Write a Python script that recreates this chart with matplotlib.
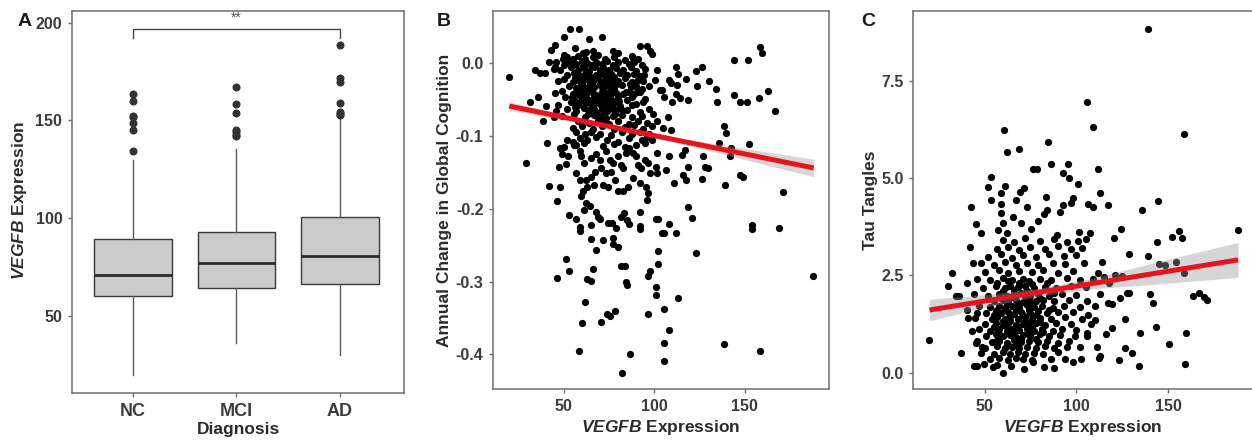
import matplotlib
matplotlib.use('Agg')
import matplotlib.pyplot as plt
import numpy as np

plt.rcParams['font.family'] = ['Liberation Sans', 'DejaVu Sans']
plt.rcParams['mathtext.fontset'] = 'custom'
plt.rcParams['mathtext.it'] = 'Liberation Sans:italic:bold'
plt.rcParams['mathtext.rm'] = 'Liberation Sans:bold'
plt.rcParams['mathtext.bf'] = 'Liberation Sans:bold'

# ---------------- Panel A data (box plot summary) ----------------
groups = ['NC', 'MCI', 'AD']
box_q1 = [60.4, 64.2, 66.2]
box_med = [71.0, 76.9, 80.8]
box_q3 = [89.2, 93.1, 100.6]
whisk_lo = [19.8, 36.0, 30.0]
whisk_hi = [130.0, 135.2, 152.2]
fliers_nc = [134.5, 145.3, 148.5, 151.6, 152.2, 160.0, 163.3]
fliers_mci = [142.0, 142.8, 144.0, 145.0, 154.0, 158.5, 167.0]
fliers_ad = [153.0, 153.3, 154.5, 159.0, 169.5, 171.8, 188.6]
sig_label = '**'
sig_y = 196.7

# ---------------- Panel B data (expression vs annual cognition change) ----------------
b_points = [
    # sparse / outer points
    (53.7, 0.047), (58.5, 0.047), (71.4, 0.036), (50.0, 0.036), (64.2, 0.033), (45.4, 0.025),
    (42.8, 0.018), (56.3, 0.021), (92.0, 0.024), (96.2, 0.024), (97.5, 0.017), (98.6, 0.013),
    (158.3, 0.022), (159.6, 0.014), (144.3, 0.004), (151.7, 0.004), (88.3, 0.007), (77.3, 0.016),
    (80.0, 0.014), (66.2, 0.016), (60.7, 0.014), (62.1, 0.015), (50.2, 0.011), (49.6, 0.005),
    (41.7, 0.001), (44.8, -0.008), (34.2, -0.009), (36.8, -0.013), (39.7, -0.014), (19.8, -0.019),
    (45.4, -0.005), (101.3, -0.010), (111.8, -0.005), (126.3, -0.005), (122.8, -0.011),
    (113.1, -0.015), (100.6, -0.023), (108.0, -0.023), (117.4, -0.022), (130.1, -0.024),
    (123.4, -0.031), (112.5, -0.030), (109.5, -0.027), (103.3, -0.037), (134.1, -0.035),
    (143.9, -0.044), (163.0, -0.038), (157.8, -0.048), (147.3, -0.054), (151.0, -0.054),
    (134.7, -0.054), (118.5, -0.050), (114.3, -0.048), (112.3, -0.043), (109.9, -0.053),
    (105.4, -0.046), (104.3, -0.037), (166.8, -0.066), (107.5, -0.074), (99.4, -0.070),
    (101.6, -0.079), (105.1, -0.089), (109.1, -0.092), (138.6, -0.087), (139.5, -0.096),
    (135.7, -0.110), (142.3, -0.117), (152.4, -0.111), (127.0, -0.127), (142.1, -0.127),
    (115.3, -0.126), (108.1, -0.127), (101.8, -0.123), (117.2, -0.119), (128.1, -0.142),
    (129.8, -0.144), (118.7, -0.142), (116.1, -0.153), (117.4, -0.160), (126.2, -0.159),
    (138.9, -0.168), (147.4, -0.153), (148.9, -0.156), (171.0, -0.177), (110.8, -0.164),
    (106.7, -0.147), (101.2, -0.142), (101.6, -0.151), (118.9, -0.197), (120.7, -0.213),
    (123.1, -0.261), (111.9, -0.234), (104.1, -0.233), (105.2, -0.234), (108.2, -0.221),
    (101.2, -0.214), (102.3, -0.214), (101.9, -0.258), (102.3, -0.276), (100.8, -0.308),
    (100.8, -0.318), (113.0, -0.322), (105.5, -0.338), (107.9, -0.367), (105.5, -0.385),
    (105.5, -0.409), (96.8, -0.345), (97.5, -0.286), (96.4, -0.293), (86.6, -0.399),
    (82.0, -0.425), (58.5, -0.396), (70.8, -0.356), (74.1, -0.344), (75.4, -0.347),
    (78.4, -0.340), (60.1, -0.357), (61.8, -0.328), (62.9, -0.296), (65.3, -0.299),
    (66.2, -0.283), (52.9, -0.286), (51.1, -0.269), (46.5, -0.295), (84.5, -0.301),
    (84.9, -0.305), (81.4, -0.279), (83.8, -0.279), (80.2, -0.253), (77.4, -0.248),
    (77.2, -0.240), (71.8, -0.243), (67.7, -0.256), (65.3, -0.242), (187.4, -0.292),
    (168.8, -0.226), (153.7, -0.222), (154.2, -0.228), (138.4, -0.386), (158.3, -0.396),
    (29.4, -0.137), (42.0, -0.169), (47.9, -0.170), (46.1, -0.189), (40.6, -0.110),
    (38.4, -0.079), (31.4, -0.053), (35.8, -0.047), (40.1, -0.059), (45.6, -0.066),
    (44.5, -0.074), (52.9, -0.208), (56.9, -0.214), (58.8, -0.225), (59.3, -0.230),
    (61.0, -0.202), (62.5, -0.192), (64.3, -0.196), (65.3, -0.222), (68.0, -0.204),
    (69.0, -0.211), (69.9, -0.214), (74.7, -0.219), (76.7, -0.219), (79.1, -0.227),
    (81.5, -0.211), (83.5, -0.206), (85.0, -0.215), (85.9, -0.221), (92.0, -0.205),
    (92.0, -0.224), (92.4, -0.228), (80.2, -0.176), (74.3, -0.170), (71.5, -0.167),
    (66.7, -0.168), (62.9, -0.170), (60.5, -0.176), (59.7, -0.183), (56.9, -0.151),
    (51.5, -0.139), (48.9, -0.125), (47.8, -0.117), (50.0, -0.115), (52.0, -0.105),
    (52.7, -0.128), (47.4, -0.142), (55.3, -0.108), (55.9, -0.112), (58.8, -0.121),
    (59.7, -0.128), (61.4, -0.137), (65.3, -0.131), (68.0, -0.125), (69.9, -0.133),
    (73.6, -0.121), (75.4, -0.133), (77.3, -0.137), (80.0, -0.128), (81.8, -0.140),
    (82.8, -0.144), (84.6, -0.124), (86.1, -0.117), (88.3, -0.124), (90.2, -0.128),
    (91.1, -0.140), (92.7, -0.144), (94.8, -0.133), (96.6, -0.137), (97.5, -0.151),
    (95.7, -0.170), (96.4, -0.179), (96.1, -0.188), (92.0, -0.165), (88.3, -0.158),
    (85.6, -0.170), (82.8, -0.176), (78.4, -0.160), (76.4, -0.149), (73.6, -0.151),
    (70.8, -0.144), (67.1, -0.149), (65.3, -0.156), (62.5, -0.160), (58.8, -0.160),
    # dense core
    (52, 0.009), (55, 0.006), (58, 0.010), (62, 0.005), (66, 0.008), (69, 0.011), (73, 0.006),
    (78, 0.009), (84, 0.004), (88, 0.010), (91, 0.006),
    (46, 0.001), (50, -0.002), (53, 0.002), (57, -0.001), (60, 0.003), (63, 0.000), (65, -0.003),
    (68, 0.002), (71, -0.001), (74, 0.003), (77, -0.002), (80, 0.001), (86, -0.001), (89, 0.002),
    (93, -0.003),
    (48, -0.009), (54, -0.006), (58, -0.010), (61, -0.007), (64, -0.011), (67, -0.006),
    (70, -0.009), (72, -0.005), (75, -0.010), (79, -0.007), (83, -0.009), (87, -0.006),
    (90, -0.011), (95, -0.008),
    (52, -0.017), (56, -0.014), (59, -0.018), (62, -0.015), (65, -0.019), (68, -0.016),
    (70, -0.013), (73, -0.018), (76, -0.015), (78, -0.019), (81, -0.014), (85, -0.017),
    (89, -0.015), (92, -0.018),
    (47, -0.025), (50, -0.022), (55, -0.026), (58, -0.023), (60, -0.027), (63, -0.022),
    (66, -0.025), (69, -0.021), (71, -0.026), (74, -0.023), (77, -0.027), (80, -0.024),
    (84, -0.021), (88, -0.026), (91, -0.023), (94, -0.025),
    (53, -0.031), (57, -0.034), (60, -0.030), (62, -0.035), (64, -0.031), (67, -0.033),
    (70, -0.029), (72, -0.034), (75, -0.031), (78, -0.035), (82, -0.030), (87, -0.033),
    (90, -0.031), (93, -0.035), (97, -0.032),
    (45, -0.041), (49, -0.038), (55, -0.042), (59, -0.039), (61, -0.043), (63, -0.038),
    (66, -0.041), (68, -0.044), (71, -0.039), (73, -0.042), (76, -0.038), (79, -0.041),
    (83, -0.043), (86, -0.039), (89, -0.042), (92, -0.040),
    (51, -0.047), (56, -0.050), (60, -0.046), (63, -0.049), (65, -0.051), (67, -0.047),
    (69, -0.050), (72, -0.046), (74, -0.049), (77, -0.052), (80, -0.047), (85, -0.050),
    (88, -0.046), (95, -0.049),
    (47, -0.057), (54, -0.054), (58, -0.058), (62, -0.055), (66, -0.059), (70, -0.056),
    (73, -0.053), (75, -0.058), (78, -0.055), (81, -0.059), (90, -0.056), (94, -0.054),
    (52, -0.063), (57, -0.066), (61, -0.062), (64, -0.065), (68, -0.067), (71, -0.063),
    (74, -0.066), (76, -0.062), (79, -0.065), (85, -0.064), (92, -0.067), (97, -0.063),
    (49, -0.073), (56, -0.070), (62, -0.074), (67, -0.071), (70, -0.075), (72, -0.070),
    (77, -0.073), (82, -0.071), (88, -0.074), (93, -0.072),
    (58, -0.079), (64, -0.082), (69, -0.078), (73, -0.081), (75, -0.084), (80, -0.080),
    (86, -0.083), (91, -0.079), (96, -0.082),
    (55, -0.089), (60, -0.086), (66, -0.090), (71, -0.087), (78, -0.091), (84, -0.088),
    (89, -0.085), (94, -0.090), (99, -0.087),
    (57, -0.095), (62, -0.098), (65, -0.094), (70, -0.097), (76, -0.099), (82, -0.095),
    (88, -0.098), (92, -0.094), (97, -0.097),
    (59, -0.103), (63, -0.106), (68, -0.102), (74, -0.105), (80, -0.108), (86, -0.103),
    (93, -0.106), (96, -0.102), (99, -0.105),
    (57, -0.113), (61, -0.110), (72, -0.114), (78, -0.111), (84, -0.115), (90, -0.112),
    (95, -0.110),
    (56.5, -0.020), (59.5, -0.029), (61.5, -0.020), (64.5, -0.027), (67.5, -0.020),
    (70.5, -0.031), (73.5, -0.027), (76.5, -0.021), (57.5, -0.037), (60.5, -0.036),
    (65.5, -0.036), (69.5, -0.045), (72.5, -0.038), (75.5, -0.045), (58.5, -0.044),
    (62.5, -0.043), (64.5, -0.055), (68.5, -0.054), (71.5, -0.060), (74.5, -0.057),
    (77.5, -0.063), (59.5, -0.052), (66.5, -0.063), (56.5, -0.060), (63.5, -0.070),
    (69.5, -0.073), (73.5, -0.076), (78.5, -0.070), (54.5, -0.046), (80.5, -0.052),
    (82.5, -0.064), (84.5, -0.040), (86.5, -0.029), (90.5, -0.040), (94.5, -0.016),
    (67.5, -0.003), (60.5, -0.004), (72.5, -0.012), (79.5, -0.029), (87.5, -0.057),
]
b_fit_x = [20, 188]
b_fit_y = [-0.059, -0.144]
b_band_x = [20, 50, 80, 110, 140, 188]
b_band_half = [0.0060, 0.0035, 0.0025, 0.0035, 0.0065, 0.0120]

# ---------------- Panel C data (expression vs tau tangles) ----------------
c_points = [
    # sparse / outer points
    (138.8, 8.84), (105.7, 6.97), (108.8, 6.31), (158.7, 6.15), (60.5, 6.23), (62.3, 5.67),
    (69.0, 5.76), (84.8, 5.93), (76.5, 5.24), (78.3, 5.24), (85.9, 5.36), (95.3, 5.36),
    (92.5, 5.13), (96.0, 5.00), (101.0, 4.86), (111.5, 5.24), (53.6, 5.02), (51.8, 4.77),
    (61.2, 4.81), (71.5, 4.74), (69.3, 4.64), (58.7, 4.61), (53.6, 4.44), (66.9, 4.44),
    (83.2, 4.53), (98.3, 4.50), (96.8, 4.35), (92.5, 4.31), (106.4, 4.34), (109.1, 4.25),
    (113.1, 4.61), (117.1, 4.31), (73.2, 4.27), (58.9, 4.33), (58.7, 4.10), (84.1, 4.18),
    (82.6, 4.07), (91.0, 4.12), (42.6, 4.25), (45.2, 3.81), (48.2, 3.60), (65.6, 4.01),
    (78.9, 3.91), (69.9, 3.84), (59.8, 3.86), (57.4, 3.67), (62.1, 3.60), (75.5, 3.69),
    (89.5, 3.54), (101.5, 3.61), (100.8, 3.39), (105.2, 3.43), (107.6, 3.58), (124.1, 3.70),
    (120.3, 3.46), (135.7, 4.17), (144.6, 4.41), (188.1, 3.68), (155.6, 3.65), (157.4, 3.46),
    (152.2, 3.48), (144.1, 3.35), (128.8, 3.05), (138.8, 2.99), (144.8, 2.79), (148.2, 2.77),
    (154.4, 2.85), (158.4, 2.55), (163.3, 1.98), (166.9, 2.04), (169.6, 1.95), (171.2, 1.87),
    (140.0, 2.01), (141.7, 1.78), (159.7, 1.01), (159.2, 0.21), (150.4, 0.74), (143.2, 1.16),
    (134.4, 1.03), (134.0, 0.17), (126.6, 0.63), (130.4, 0.50), (123.2, 0.33), (126.6, 1.39),
    (128.8, 2.06), (127.7, 2.06), (123.6, 1.93), (117.2, 1.78), (119.4, 1.77), (116.3, 0.99),
    (119.4, 1.14), (113.1, 0.43), (112.2, 0.37), (111.2, 0.67), (110.3, 1.35), (106.2, 1.48),
    (105.5, 1.01), (102.3, 0.35), (98.3, 0.28), (19.5, 0.84), (37.3, 0.50), (44.2, 0.17),
    (46.0, 0.17), (49.6, 0.21), (54.4, 0.15), (56.9, 0.20), (60.2, 0.00), (64.2, 0.17),
    (71.5, 0.09), (76.1, 0.26), (82.4, 0.15), (87.9, 0.13), (30.2, 2.24), (32.0, 2.57),
    (34.7, 1.98), (36.2, 1.97), (40.2, 2.30), (41.8, 3.24), (43.5, 2.82), (40.2, 1.61),
    (40.9, 1.40), (46.0, 1.53), (43.3, 1.07), (45.1, 0.75), (48.7, 0.67),
    (115.0, 2.45), (121.0, 2.50), (118.0, 2.30), (112.0, 2.55), (114.0, 2.85), (125.0, 2.48),
    # dense core
    (60, 3.42), (66, 3.35), (72, 3.45), (80, 3.38), (88, 3.44), (95, 3.36),
    (57, 3.18), (63, 3.24), (69, 3.16), (75, 3.22), (83, 3.17), (90, 3.25), (97, 3.19), (103, 3.21),
    (52, 2.98), (59, 3.04), (65, 2.96), (71, 3.03), (78, 2.97), (85, 3.05), (93, 2.99), (100, 3.02),
    (48, 2.82), (55, 2.77), (61, 2.84), (67, 2.78), (73, 2.83), (79, 2.76), (87, 2.81), (94, 2.79),
    (104, 2.83),
    (50, 2.58), (58, 2.63), (63, 2.57), (69, 2.62), (76, 2.59), (82, 2.64), (90, 2.57), (98, 2.61),
    (46, 2.41), (53, 2.37), (60, 2.43), (65, 2.38), (71, 2.42), (74, 2.36), (80, 2.41), (86, 2.38),
    (95, 2.43), (102, 2.37), (109, 2.40),
    (49, 2.18), (56, 2.23), (61, 2.17), (64, 2.22), (68, 2.19), (72, 2.24), (77, 2.17), (83, 2.21),
    (89, 2.18), (97, 2.23), (105, 2.20),
    (44, 2.02), (52, 1.98), (58, 2.03), (62, 1.97), (66, 2.01), (70, 2.04), (75, 1.98), (79, 2.02),
    (85, 1.97), (92, 2.03), (100, 1.99), (113, 2.01),
    (55, 1.84), (60, 1.88), (63, 1.83), (67, 1.87), (71, 1.82), (74, 1.86), (78, 1.84), (82, 1.88),
    (88, 1.83), (96, 1.86), (106, 1.85),
    (47, 1.71), (53, 1.68), (58, 1.72), (61, 1.67), (65, 1.71), (69, 1.68), (73, 1.73), (77, 1.69),
    (81, 1.72), (87, 1.67), (93, 1.71), (102, 1.69), (110, 1.72),
    (51, 1.54), (56, 1.58), (59, 1.53), (63, 1.57), (66, 1.52), (70, 1.56), (75, 1.54), (79, 1.58),
    (84, 1.53), (90, 1.57), (98, 1.55),
    (45, 1.41), (54, 1.38), (57, 1.42), (61, 1.37), (64, 1.43), (68, 1.39), (72, 1.42), (76, 1.38),
    (80, 1.41), (86, 1.37), (94, 1.42), (103, 1.39),
    (50, 1.24), (56, 1.28), (60, 1.23), (63, 1.27), (67, 1.22), (71, 1.26), (74, 1.24), (78, 1.28),
    (83, 1.23), (89, 1.27), (97, 1.25), (108, 1.24),
    (47, 1.11), (53, 1.08), (58, 1.12), (62, 1.07), (65, 1.13), (69, 1.09), (73, 1.12), (77, 1.08),
    (81, 1.11), (87, 1.07), (92, 1.12), (100, 1.09),
    (51, 0.94), (56, 0.98), (60, 0.93), (64, 0.97), (67, 0.92), (71, 0.96), (75, 0.94), (80, 0.98),
    (85, 0.93), (91, 0.97), (99, 0.95), (106, 0.94),
    (46, 0.81), (54, 0.78), (58, 0.82), (62, 0.77), (66, 0.83), (70, 0.79), (74, 0.82), (79, 0.78),
    (84, 0.81), (90, 0.77), (96, 0.82),
    (50, 0.64), (57, 0.68), (61, 0.63), (65, 0.67), (69, 0.62), (73, 0.66), (78, 0.64), (83, 0.68),
    (88, 0.63), (95, 0.67), (102, 0.65),
    (48, 0.51), (55, 0.48), (60, 0.52), (64, 0.47), (68, 0.53), (72, 0.49), (77, 0.51), (82, 0.48),
    (90, 0.52),
    (53, 0.34), (58, 0.38), (63, 0.33), (67, 0.37), (71, 0.35), (76, 0.32), (86, 0.36), (94, 0.34),
    (57, 2.30), (60, 2.10), (63, 2.35), (66, 2.12), (69, 2.30), (73, 2.09), (76, 2.28),
    (59, 1.93), (65, 1.95), (68, 1.78), (72, 1.95), (76, 1.77), (80, 1.93), (57, 1.62),
    (62, 1.77), (67, 1.63), (71, 1.47), (74, 1.62), (78, 1.48), (55, 1.47), (60, 1.32),
    (64, 1.32), (68, 1.17), (72, 1.33), (76, 1.16), (80, 1.30), (58, 1.00), (62, 1.17),
    (66, 1.02), (70, 0.86), (74, 1.03), (78, 0.87), (55, 1.16), (82, 1.04), (63, 0.70),
    (67, 0.74), (57, 0.85), (85, 1.60), (88, 2.05), (84, 2.30),
]
c_fit_x = [20, 188]
c_fit_y = [1.61, 2.90]
c_band_x = [20, 50, 80, 110, 140, 188]
c_band_half = [0.28, 0.16, 0.10, 0.14, 0.27, 0.45]

b_yticks = [-0.4, -0.3, -0.2, -0.1, 0.0]
b_yticklabels = ['-0.4', '-0.3', '-0.2', '-0.1', '0.0']
c_yticks = [0.0, 2.5, 5.0, 7.5]
c_yticklabels = ['0.0', '2.5', '5.0', '7.5']
x_ticks = [50, 100, 150]

# ---------------- Styling ----------------
W, H = 1252, 440
fig = plt.figure(figsize=(W / 100, H / 100), dpi=100)
TICK_C = '#3c3c3c'
TITLE_C = '#2b2b2b'
SPINE_C = '#6e6e6e'
TICK_FS = 11.5
TITLE_FS = 12.5


def style_axes(ax):
    for s in ax.spines.values():
        s.set_color(SPINE_C)
        s.set_linewidth(1.1)
    ax.tick_params(axis='both', colors=SPINE_C, length=3, width=1.0,
                   labelcolor=TICK_C, labelsize=TICK_FS, pad=4)
    for lab in ax.get_xticklabels() + ax.get_yticklabels():
        lab.set_fontweight('bold')


def px(x, y):
    return x / W, 1 - y / H

# ---------------- Panel A ----------------
axA = fig.add_axes([72 / W, 1 - 393 / H, 332 / W, 382 / H])
fliers = [fliers_nc, fliers_mci, fliers_ad]
stats = []
for i, g in enumerate(groups):
    stats.append(dict(label=g, q1=box_q1[i], med=box_med[i], q3=box_q3[i],
                      whislo=whisk_lo[i], whishi=whisk_hi[i], fliers=fliers[i]))
axA.bxp(stats, positions=[1, 2, 3], widths=0.75, patch_artist=True, showcaps=False,
        boxprops=dict(facecolor='#cbcbcb', edgecolor='#3a3a3a', linewidth=1.0),
        medianprops=dict(color='#2a2a2a', linewidth=2.0),
        whiskerprops=dict(color='#5a5a5a', linewidth=1.0),
        flierprops=dict(marker='o', markerfacecolor='#333333', markeredgecolor='#333333',
                        markersize=4.8))
axA.set_xlim(0.41, 3.62)
axA.set_ylim(10.6, 206)
axA.set_yticks([50, 100, 150, 200])
axA.set_xticks([1, 2, 3])
axA.set_xticklabels(groups)
style_axes(axA)
axA.tick_params(axis='y', labelsize=11.5)
axA.tick_params(axis='x', labelsize=13, pad=4)
axA.plot([1, 1, 3, 3], [sig_y - 4.6, sig_y, sig_y, sig_y - 4.6], color='#444444', lw=1.0)
axA.text(2, sig_y + 2.2, sig_label, ha='center', va='bottom', fontsize=10, color='#555555')

fig.text(*px(20, 200), r'$VEGFB$ Expression', rotation=90, ha='center', va='center',
         fontsize=TITLE_FS, color=TITLE_C, fontweight='bold')
fig.text(*px(238, 429), 'Diagnosis', ha='center', va='center', fontsize=TITLE_FS,
         color=TITLE_C, fontweight='bold')
fig.text(*px(25, 22), 'A', ha='center', va='center', fontsize=14, fontweight='bold', color='#1a1a1a')

# ---------------- Panel B ----------------
axB = fig.add_axes([493.3 / W, 1 - 389.3 / H, 335.4 / W, 378.6 / H])
bx = np.array([p[0] for p in b_points])
by = np.array([p[1] for p in b_points])
axB.scatter(bx, by, s=27, color='black', linewidths=0, zorder=2)
bfx = np.array(b_band_x, dtype=float)
bfy = np.interp(bfx, b_fit_x, b_fit_y)
axB.fill_between(bfx, bfy - np.array(b_band_half), bfy + np.array(b_band_half),
                 color='#999999', alpha=0.4, linewidth=0, zorder=3)
axB.plot(b_fit_x, b_fit_y, color='#e8141c', lw=3.6, solid_capstyle='butt', zorder=4)
axB.set_xlim(11.2, 196.3)
axB.set_ylim(-0.448, 0.072)
axB.set_xticks(x_ticks)
axB.set_yticks(b_yticks)
axB.set_yticklabels(b_yticklabels)
style_axes(axB)
fig.text(*px(445, 200), 'Annual Change in Global Cognition', rotation=90, ha='center',
         va='center', fontsize=TITLE_FS, color=TITLE_C, fontweight='bold')
fig.text(*px(661, 427), r'$VEGFB$ Expression', ha='center', va='center',
         fontsize=TITLE_FS, color=TITLE_C, fontweight='bold')
fig.text(*px(444, 21), 'B', ha='center', va='center', fontsize=14, fontweight='bold', color='#1a1a1a')

# ---------------- Panel C ----------------
axC = fig.add_axes([913.3 / W, 1 - 389.3 / H, 340 / W, 378.6 / H])
cx = np.array([p[0] for p in c_points])
cy = np.array([p[1] for p in c_points])
axC.scatter(cx, cy, s=27, color='black', linewidths=0, zorder=2)
cfx = np.array(c_band_x, dtype=float)
cfy = np.interp(cfx, c_fit_x, c_fit_y)
axC.fill_between(cfx, cfy - np.array(c_band_half), cfy + np.array(c_band_half),
                 color='#999999', alpha=0.4, linewidth=0, zorder=3)
axC.plot(c_fit_x, c_fit_y, color='#e8141c', lw=3.6, solid_capstyle='butt', zorder=4)
axC.set_xlim(11.2, 196.3)
axC.set_ylim(-0.43, 9.31)
axC.set_xticks(x_ticks)
axC.set_yticks(c_yticks)
axC.set_yticklabels(c_yticklabels)
style_axes(axC)
fig.text(*px(870, 200), 'Tau Tangles', rotation=90, ha='center', va='center',
         fontsize=TITLE_FS, color=TITLE_C, fontweight='bold')
fig.text(*px(1083, 427), r'$VEGFB$ Expression', ha='center', va='center',
         fontsize=TITLE_FS, color=TITLE_C, fontweight='bold')
fig.text(*px(868, 22), 'C', ha='center', va='center', fontsize=14, fontweight='bold', color='#1a1a1a')

fig.savefig('out.png', dpi=100)
